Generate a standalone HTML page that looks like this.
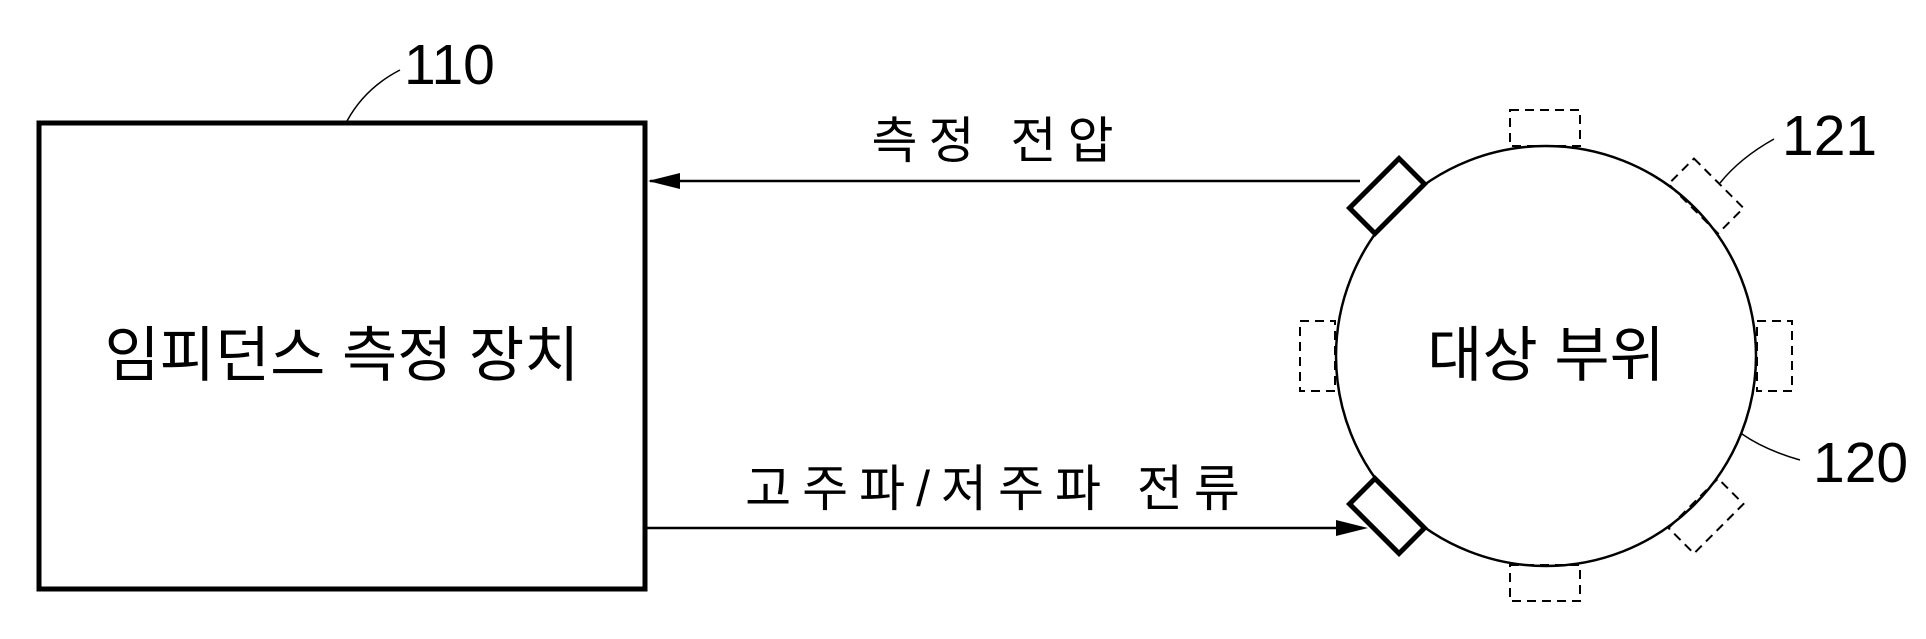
<!DOCTYPE html>
<html><head><meta charset="utf-8"><style>
html,body{margin:0;padding:0;background:#fff;}
svg{display:block;}
text{font-family:"Liberation Sans","Noto Sans CJK KR",sans-serif;fill:#000;}
</style></head><body>
<svg width="1926" height="639" viewBox="0 0 1926 639" xmlns="http://www.w3.org/2000/svg">
<rect x="39" y="123" width="606" height="466" fill="none" stroke="#000" stroke-width="5"/>
<text x="342" y="376" font-size="60" text-anchor="middle">임피던스 측정 장치</text>
<path d="M347 121 Q365 88 400 70" fill="none" stroke="#000" stroke-width="1.5"/>
<text x="404" y="84" font-size="57">110</text>

<line x1="650" y1="181" x2="1360" y2="181" stroke="#000" stroke-width="2.5"/>
<polygon points="648,181 680,173 680,189" fill="#000"/>
<text x="998" y="158" font-size="50" letter-spacing="11" text-anchor="middle">측정 전압</text>

<line x1="645" y1="528" x2="1340" y2="528" stroke="#000" stroke-width="2.5"/>
<polygon points="1368,528 1336,520 1336,536" fill="#000"/>
<text x="998" y="506" font-size="50" letter-spacing="11" text-anchor="middle">고주파/저주파 전류</text>

<circle cx="1546" cy="356" r="210" fill="none" stroke="#000" stroke-width="2.5"/>
<text x="1546" y="376" font-size="60" text-anchor="middle">대상 부위</text>

<g fill="#fff" stroke="#000" stroke-width="5">
<rect x="-35" y="-18" width="70" height="36" transform="translate(1387,196) rotate(-45)"/>
<rect x="-35" y="-18" width="70" height="36" transform="translate(1387,516) rotate(45)"/>
</g>
<g fill="none" stroke="#000" stroke-width="2" stroke-dasharray="9,6">
<rect x="1510" y="110" width="70" height="36"/>
<rect x="1510" y="565" width="70" height="36"/>
<rect x="1300" y="321" width="35" height="70"/>
<rect x="1757" y="321" width="35" height="70"/>
<rect x="-35" y="-18" width="70" height="36" transform="translate(1706,196) rotate(45)"/>
<rect x="-35" y="-18" width="70" height="36" transform="translate(1706,516) rotate(-45)"/>
</g>
<path d="M1720 183 Q1740 158 1774 139" fill="none" stroke="#000" stroke-width="1.5"/>
<text x="1782" y="155" font-size="57">121</text>
<path d="M1742 434 Q1765 450 1800 460" fill="none" stroke="#000" stroke-width="1.5"/>
<text x="1813" y="482" font-size="57">120</text>
</svg>
</body></html>
